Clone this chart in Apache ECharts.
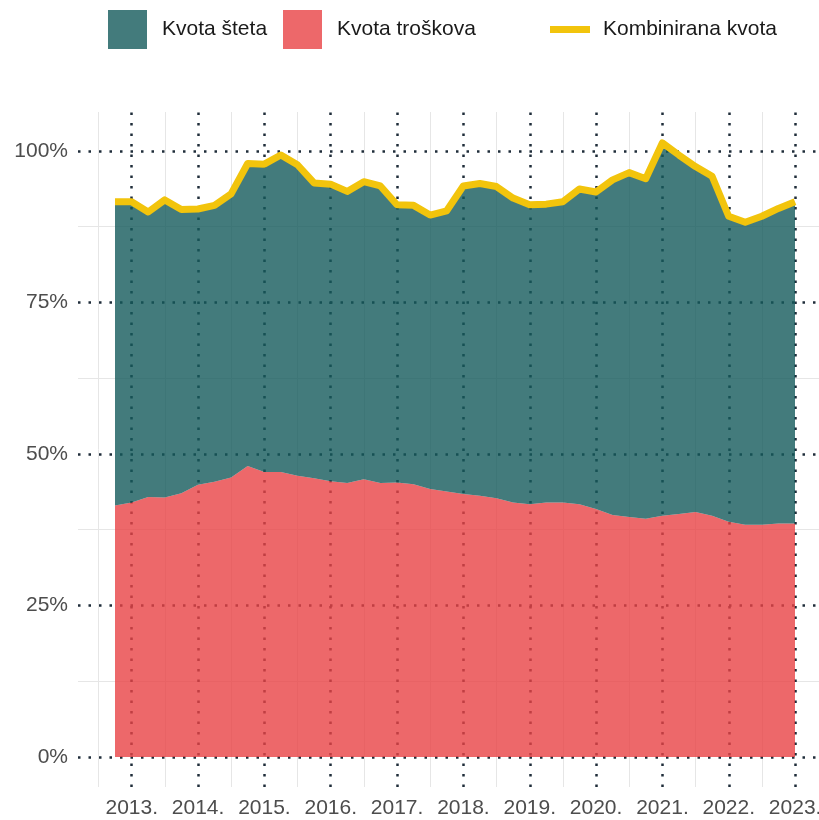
<!DOCTYPE html>
<html>
<head>
<meta charset="utf-8">
<script src="https://cdn.jsdelivr.net/npm/echarts@6/dist/echarts.min.js"></script>
<style>
  html, body { margin: 0; padding: 0; background: #fff; }
  #chart { width: 819px; height: 820px; }
</style>
</head>
<body>
<div id="chart"></div>
<script>
// kvartali, od Q4 2012 do Q1 2023
var quarters = ['2012Q4', '2013Q1', '2013Q2', '2013Q3', '2013Q4', '2014Q1', '2014Q2', '2014Q3', '2014Q4',
    '2015Q1', '2015Q2', '2015Q3', '2015Q4', '2016Q1', '2016Q2', '2016Q3', '2016Q4',
    '2017Q1', '2017Q2', '2017Q3', '2017Q4', '2018Q1', '2018Q2', '2018Q3', '2018Q4',
    '2019Q1', '2019Q2', '2019Q3', '2019Q4', '2020Q1', '2020Q2', '2020Q3', '2020Q4',
    '2021Q1', '2021Q2', '2021Q3', '2021Q4', '2022Q1', '2022Q2', '2022Q3', '2022Q4', '2023Q1'];

// kombinirana kvota (%)
var combined = [91.6, 91.6, 89.9, 91.9, 90.3, 90.4, 91.0, 92.9, 97.9, 97.8, 99.3, 97.7, 94.7, 94.5,
    93.3, 94.9, 94.2, 91.1, 91.0, 89.4, 90.1, 94.2, 94.6, 94.1, 92.2, 91.1, 91.2, 91.6, 93.7,
    93.2, 95.2, 96.4, 95.4, 101.3, 99.3, 97.4, 95.8, 89.2, 88.2, 89.2, 90.5, 91.6];

// kvota troškova (%)
var expenseRatio = [41.5, 42.0, 42.9, 42.8, 43.5, 44.9, 45.4, 46.1, 48.0, 47.0, 47.0, 46.4, 46.0, 45.5,
    45.2, 45.8, 45.2, 45.3, 45.0, 44.2, 43.8, 43.4, 43.1, 42.7, 42.0, 41.7, 42.0, 42.0, 41.7,
    40.9, 39.9, 39.6, 39.3, 39.8, 40.1, 40.4, 39.8, 38.8, 38.3, 38.3, 38.5, 38.5];

// kvota šteta = kombinirana - troškova
var claimsRatio = combined.map(function (c, i) { return +(c - expenseRatio[i]).toFixed(1); });

var yearTicks = [2013, 2014, 2015, 2016, 2017, 2018, 2019, 2020, 2021, 2022, 2023];
var halfYearTicks = [2012.5, 2013.5, 2014.5, 2015.5, 2016.5, 2017.5, 2018.5, 2019.5, 2020.5, 2021.5, 2022.5, 2023.5];
var pctTicks = [0, 25, 50, 75, 100];
var pctMinorTicks = [12.5, 37.5, 62.5, 87.5];

var dotted = { color: '#1f2d3a', width: 2.5, type: [2.5, 8], opacity: 1 };
var light = { color: '#e6e6e6', width: 1, type: 'solid', opacity: 1 };

var gridLines = [];
halfYearTicks.forEach(function (v) { gridLines.push({ xAxis: v, lineStyle: light }); });
pctMinorTicks.forEach(function (v) { gridLines.push({ yAxis: v, lineStyle: light }); });
yearTicks.forEach(function (v) { gridLines.push({ xAxis: v, lineStyle: dotted }); });
pctTicks.forEach(function (v) { gridLines.push({ yAxis: v, lineStyle: dotted }); });

var font = 'Liberation Sans, Arial, sans-serif';
var legendText = { color: '#1a1a1a', fontSize: 21, fontFamily: font, padding: [0, 0, 0, 10] };
var yMin = -4.95, yMax = 106.4;

var chart = echarts.init(document.getElementById('chart'));
chart.setOption({
    animation: false,
    legend: [
        {
            left: 108, top: 10, padding: 0, itemWidth: 39, itemHeight: 39,
            data: [{ name: 'Kvota šteta', icon: 'rect', itemStyle: { color: '#437b7c' } }],
            textStyle: legendText
        },
        {
            left: 283, top: 10, padding: 0, itemWidth: 39, itemHeight: 39,
            data: [{ name: 'Kvota troškova', icon: 'rect', itemStyle: { color: '#ed686a' } }],
            textStyle: legendText
        },
        {
            left: 550, top: 19, padding: 0, itemWidth: 40, itemHeight: 7,
            data: [{ name: 'Kombinirana kvota', icon: 'rect', itemStyle: { color: '#f2c40c' } }],
            textStyle: { color: '#1a1a1a', fontSize: 21, fontFamily: font, padding: [0, 0, 0, 8] }
        }
    ],
    grid: [
        // panel s osima i mrežom
        { left: 78, right: 0, top: 112, bottom: 33, outerBoundsMode: 'none', containLabel: false },
        // podaci: od Q4 2012 (x=115) do Q1 2023 (x=795)
        { left: 115, right: 24, top: 112, bottom: 33, outerBoundsMode: 'none', containLabel: false }
    ],
    xAxis: [
        {
            type: 'value',
            gridIndex: 0,
            min: 2012.19,
            max: 2023.36,
            axisLine: { show: false },
            axisTick: { show: false },
            splitLine: { show: false },
            axisLabel: {
                customValues: yearTicks,
                formatter: function (v) { return v + '.'; },
                color: '#4d4d4d',
                fontSize: 21,
                fontFamily: font,
                margin: 11,
                hideOverlap: false
            }
        },
        {
            type: 'category',
            gridIndex: 1,
            data: quarters,
            boundaryGap: false,
            show: false
        }
    ],
    yAxis: [
        {
            type: 'value',
            gridIndex: 0,
            min: yMin,
            max: yMax,
            axisLine: { show: false },
            axisTick: { show: false },
            splitLine: { show: false },
            axisLabel: {
                customValues: pctTicks,
                formatter: function (v) { return v + '%'; },
                color: '#4d4d4d',
                fontSize: 21,
                fontFamily: font,
                margin: 10
            }
        },
        {
            type: 'value',
            gridIndex: 1,
            min: yMin,
            max: yMax,
            show: false,
            splitLine: { show: false }
        }
    ],
    series: [
        {
            name: 'grid',
            type: 'line',
            xAxisIndex: 0,
            yAxisIndex: 0,
            data: [],
            z: 1,
            silent: true,
            markLine: { z: 1, silent: true, symbol: 'none', label: { show: false }, animation: false, data: gridLines }
        },
        {
            name: 'Kvota troškova',
            type: 'line',
            xAxisIndex: 1,
            yAxisIndex: 1,
            stack: 'kvota',
            data: expenseRatio,
            z: 2,
            symbol: 'none',
            color: '#ed686a',
            lineStyle: { width: 0 },
            areaStyle: { color: 'rgba(232,66,69,0.8)', opacity: 1 }
        },
        {
            name: 'Kvota šteta',
            type: 'line',
            xAxisIndex: 1,
            yAxisIndex: 1,
            stack: 'kvota',
            data: claimsRatio,
            z: 2,
            symbol: 'none',
            color: '#437b7c',
            lineStyle: { width: 0 },
            areaStyle: { color: 'rgba(20,90,91,0.8)', opacity: 1 }
        },
        {
            name: 'Kombinirana kvota',
            type: 'line',
            xAxisIndex: 1,
            yAxisIndex: 1,
            data: combined,
            z: 3,
            symbol: 'none',
            color: '#f2c40c',
            lineStyle: { width: 7, color: '#f2c40c', join: 'round' }
        }
    ]
});
</script>
</body>
</html>
